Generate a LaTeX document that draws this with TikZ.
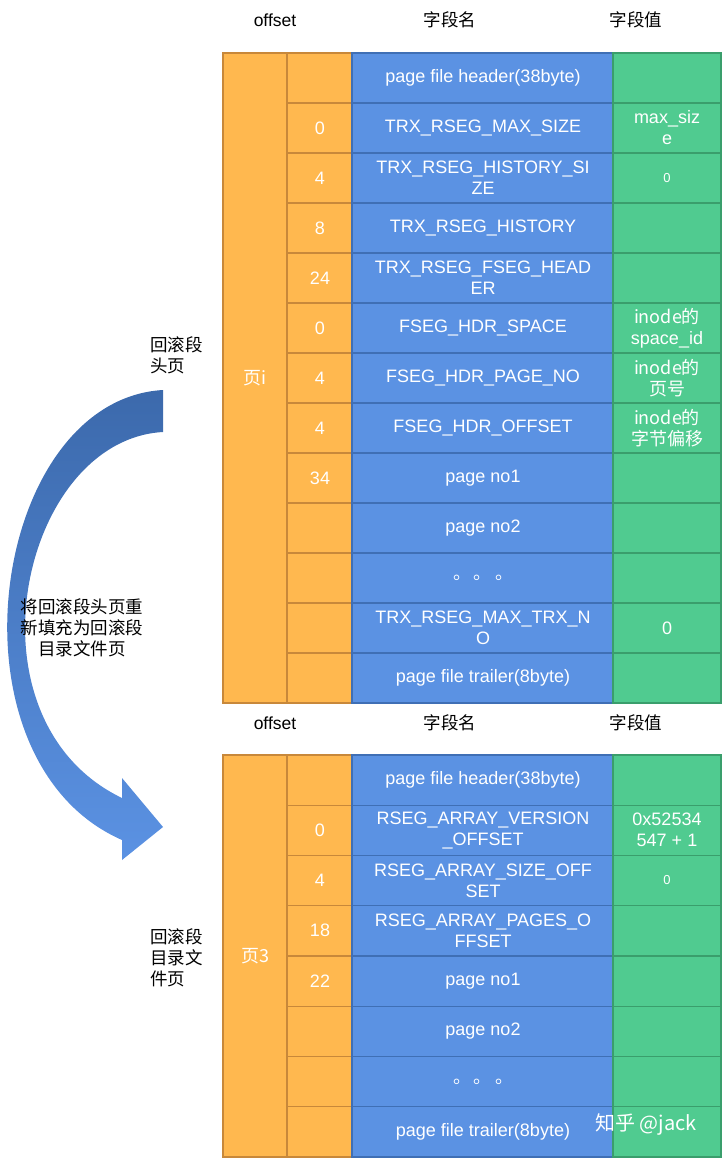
\documentclass[tikz,border=0pt]{standalone}
\usepackage{fontspec}
\setmainfont{Liberation Sans}
\newfontfamily\cjk{Noto Sans CJK SC}
\begin{document}
\begin{tikzpicture}[x=1pt,y=-1pt,
  org/.style={fill=orgc,draw=orgd,line width=1.2pt},
  blu/.style={fill=bluc,draw=blud,line width=1.2pt},
  grn/.style={fill=grnc,draw=grnd,line width=1.2pt},
  wt/.style={text=white,font=\fontsize{18}{21}\selectfont,align=center,inner sep=0pt},
  lb/.style={font=\fontsize{17.5}{21}\selectfont,align=center,inner sep=0pt}]
\definecolor{orgc}{HTML}{FFB84F}\definecolor{orgd}{HTML}{C8883A}
\definecolor{bluc}{HTML}{5B92E3}\definecolor{blud}{HTML}{3F6FB5}
\definecolor{grnc}{HTML}{50CB90}\definecolor{grnd}{HTML}{3A9E6C}
\newcommand\sz{\fontsize{13}{14}\selectfont 0}
\useasboundingbox (0,0) rectangle (723,1158);
% arrow
\shade[top color=blud!95!black,bottom color=bluc] (163,390) .. controls (-10,400) and (-60,760) .. (122,840) -- (122,860) -- (163,827) -- (122,778) -- (122,798) .. controls (-40,720) and (20,440) .. (163,432) -- cycle;
\node[lb,align=left,anchor=west] (h1) at (150,355) {\cjk 回滚段\\\cjk 头页};
\node[lb] (mid) at (82,628) {\cjk 将回滚段头页重\\\cjk 新填充为回滚段\\\cjk 目录文件页};
\node[lb,align=left,anchor=west] (h2) at (150,958) {\cjk 回滚段\\\cjk 目录文\\\cjk 件页};
% headers
\foreach \y in {20,723}{
 \node[lb] at (275,\y) {offset};
 \node[lb] at (450,\y) {\cjk 字段名};
 \node[lb] at (636,\y) {\cjk 字段值};}
% top table
\draw[org] (223,53) rectangle (287,703);
\node[wt] (p1) at (255,378) {\cjk 页i};
\foreach [count=\i from 0] \o/\n/\v in {
 /{page file header(38byte)}/,
 0/TRX\_RSEG\_MAX\_SIZE/{max\_siz\\e},
 4/{TRX\_RSEG\_HISTORY\_SI\\ZE}/{\sz},
 8/TRX\_RSEG\_HISTORY/,
 24/{TRX\_RSEG\_FSEG\_HEAD\\ER}/,
 0/FSEG\_HDR\_SPACE/{\cjk inode的\\space\_id},
 4/FSEG\_HDR\_PAGE\_NO/{\cjk inode的\\\cjk 页号},
 4/FSEG\_HDR\_OFFSET/{\cjk inode的\\\cjk 字节偏移},
 34/page no1/,
 /page no2/,
 /{\cjk 。\,。\,。}/,
 /{TRX\_RSEG\_MAX\_TRX\_N\\O}/0,
 /{page file trailer(8byte)}/}{
 \pgfmathsetmacro\yt{53+50*\i}
 \draw[org] (287,\yt) rectangle (352,\yt+50);
 \draw[blu] (352,\yt) rectangle (613,\yt+50);
 \draw[grn] (613,\yt) rectangle (721,\yt+50);
 \node[wt] (to\i) at (320,\yt+25) {\o};
 \node[wt] (tn\i) at (483,\yt+25) {\n};
 \node[wt] (tv\i) at (667,\yt+25) {\v};}
% bottom table
\draw[org] (223,755) rectangle (287,1157);
\node[wt] (p3) at (255,956) {\cjk 页3};
\foreach [count=\i from 0] \o/\n/\v in {
 /{page file header(38byte)}/,
 0/{RSEG\_ARRAY\_VERSION\\\_OFFSET}/{0x52534\\547 + 1},
 4/{RSEG\_ARRAY\_SIZE\_OFF\\SET}/{\sz},
 18/{RSEG\_ARRAY\_PAGES\_O\\FFSET}/,
 22/page no1/,
 /page no2/,
 /{\cjk 。\,。\,。}/,
 /{page file trailer(8byte)}/}{
 \pgfmathsetmacro\yt{755+50.25*\i}
 \draw[org] (287,\yt) rectangle (352,\yt+50.25);
 \draw[blu] (352,\yt) rectangle (613,\yt+50.25);
 \draw[grn] (613,\yt) rectangle (721,\yt+50.25);
 \node[wt] (bo\i) at (320,\yt+25) {\o};
 \node[wt] (bn\i) at (483,\yt+25) {\n};
 \node[wt] (bv\i) at (667,\yt+25) {\v};}
\node[wt,font=\fontsize{20}{22}\selectfont] (wm) at (646,1124) {\cjk 知乎 @jack};
\end{tikzpicture}
\end{document}
